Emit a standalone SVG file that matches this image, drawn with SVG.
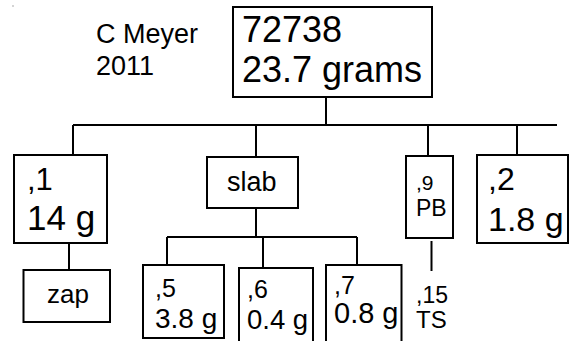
<svg xmlns="http://www.w3.org/2000/svg" width="575" height="341" viewBox="0 0 575 341">
<style>
.box{fill:#fff;stroke:#000;stroke-width:2}
.ln{fill:none;stroke:#000;stroke-width:2}
text{font-family:"Liberation Sans",Arial,sans-serif;fill:#000}
</style>
<rect width="575" height="341" fill="#fff"/>
<circle cx="13" cy="6" r="0.7" fill="#888"/>
<g id="connectors">
<path class="ln" d="M326 97V125M73 125H557M73 125V155M256 125V157M428 125V156M517 125V155"/>
<path class="ln" d="M69 243V270"/>
<path class="ln" d="M256 208V237M167 237H357M167 237V265M263 237V268M357 237V265"/>
<path class="ln" d="M431.5 241V271"/>
</g>
<g id="author"><text x="96" y="43" font-size="27">C Meyer</text><text x="96" y="75" font-size="27">2011</text></g>
<g id="root"><rect class="box" x="233" y="7" width="199" height="90"/><text x="242" y="42" font-size="36">72738</text><text x="242" y="82" font-size="36">23.7 grams</text></g>
<g id="n1"><rect class="box" x="14" y="155" width="93" height="88"/><text x="27" y="190" font-size="31">,1</text><text x="27" y="230" font-size="35">14 g</text></g>
<g id="zap"><rect class="box" x="23.5" y="270" width="86.5" height="52"/><text x="47" y="303" font-size="26">zap</text></g>
<g id="slab"><rect class="box" x="207" y="157" width="91" height="51"/><text x="227" y="191" font-size="27">slab</text></g>
<g id="n9"><rect class="box" x="406" y="156" width="47" height="82"/><text x="416" y="190" font-size="21">,9</text><text x="416" y="216" font-size="23">PB</text></g>
<g id="n2"><rect class="box" x="477" y="155" width="91" height="88"/><text x="488" y="190" font-size="32">,2</text><text x="488" y="231" font-size="34">1.8 g</text></g>
<g id="n5"><rect class="box" x="143" y="265" width="81" height="73"/><text x="155" y="297" font-size="25">,5</text><text x="155" y="328" font-size="28">3.8 g</text></g>
<g id="n6"><rect class="box" x="239" y="268" width="74" height="80"/><text x="247" y="298" font-size="25">,6</text><text x="247" y="329" font-size="27.5">0.4 g</text></g>
<g id="n7"><rect class="box" x="326" y="265" width="75.5" height="83"/><text x="334" y="294" font-size="25">,7</text><text x="334" y="323" font-size="29">0.8 g</text></g>
<g id="n15"><text x="416" y="303" font-size="23">,15</text><text x="416" y="328" font-size="24">TS</text></g>
</svg>
